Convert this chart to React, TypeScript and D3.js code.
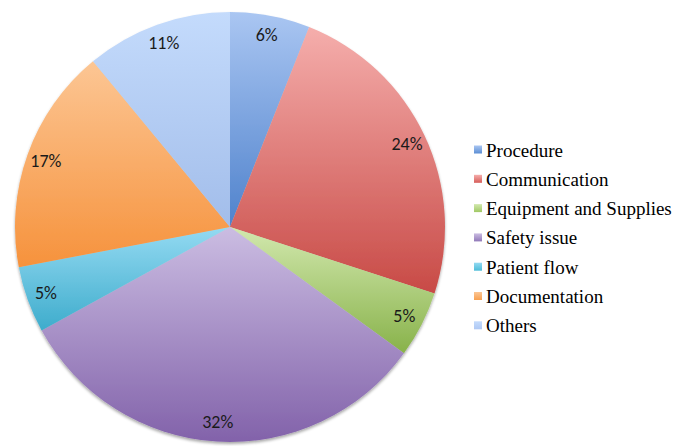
import React from "react";
import * as d3 from "d3";

const categories = ["Procedure", "Communication", "Equipment and Supplies", "Safety issue", "Patient flow", "Documentation", "Others"];
const values = [6, 24, 5, 32, 5, 17, 11];
const labels = ["6%", "24%", "5%", "32%", "5%", "17%", "11%"];
const lightColors = ["#aac6f2", "#f5aeac", "#d2e8ae", "#cbbde2", "#94daf2", "#fcc694", "#c4dbfc"];
const darkColors = ["#4f82cc", "#c84a46", "#88b24a", "#8262aa", "#3eaccc", "#f6923c", "#a2bdea"];
const legendColors = ["#5b8ed4", "#d65c58", "#a0c864", "#9078b8", "#4cbcd8", "#f8a050", "#aec8f4"];

export default function App() {
  const cx = 230, cy = 227, r = 215;
  const pie = d3.pie<number>().sort(null).value((d) => d);
  const arcs = pie(values);
  const arcGen = d3.arc<d3.PieArcDatum<number>>().innerRadius(0).outerRadius(r);
  const labelArc = d3.arc<d3.PieArcDatum<number>>().innerRadius(r * 0.91).outerRadius(r * 0.91);
  const legendY = d3.scaleLinear().domain([0, 1]).range([150, 179.3]);

  return (
    <svg width={677} height={446} style={{ position: "absolute", left: 0, top: 0 }}>
      <defs>
        {categories.map((c, i) => (
          <linearGradient key={c} id={`g${i}`} x1="0" y1="0" x2="0" y2="1">
            <stop offset="0" stopColor={lightColors[i]} />
            <stop offset="1" stopColor={darkColors[i]} />
          </linearGradient>
        ))}
        {categories.map((c, i) => (
          <linearGradient key={c + "l"} id={`lg${i}`} x1="0" y1="0" x2="0" y2="1">
            <stop offset="0" stopColor={lightColors[i]} />
            <stop offset="1" stopColor={legendColors[i]} />
          </linearGradient>
        ))}
        <filter id="shadow" x="-10%" y="-10%" width="120%" height="120%">
          <feGaussianBlur in="SourceAlpha" stdDeviation="1.5" />
          <feOffset dx="0" dy="2" result="b" />
          <feComponentTransfer>
            <feFuncA type="linear" slope="0.35" />
          </feComponentTransfer>
          <feMerge>
            <feMergeNode />
            <feMergeNode in="SourceGraphic" />
          </feMerge>
        </filter>
      </defs>
      <rect width={677} height={446} fill="#ffffff" />
      <g transform={`translate(${cx},${cy})`} filter="url(#shadow)">
        {arcs.map((a, i) => (
          <path key={i} d={arcGen(a) || ""} fill={`url(#g${i})`} />
        ))}
      </g>
      <g transform={`translate(${cx},${cy})`}>
        {arcs.map((a, i) => {
          const [x, y] = labelArc.centroid(a);
          return (
            <text key={i} x={x} y={y} textAnchor="middle" dominantBaseline="central"
              fontFamily="Carlito" fontSize={18} fill="#1a1a1a">
              {labels[i]}
            </text>
          );
        })}
      </g>
      <g>
        {categories.map((c, i) => (
          <g key={c} transform={`translate(474,${legendY(i)})`}>
            <rect x={0} y={-4.5} width={8} height={8} fill={`url(#lg${i})`} />
            <text x={12} y={0} dominantBaseline="central"
              fontFamily="Liberation Serif" fontSize={19} fill="#000">
              {c}
            </text>
          </g>
        ))}
      </g>
    </svg>
  );
}
